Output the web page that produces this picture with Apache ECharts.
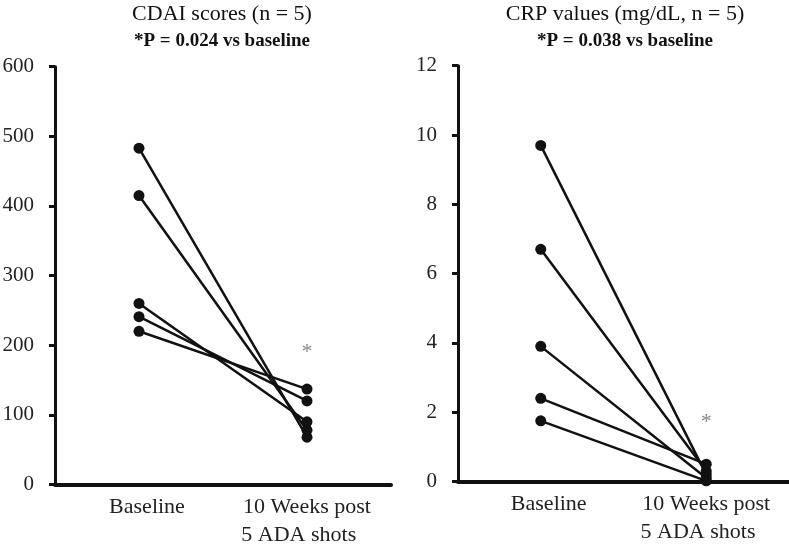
<!DOCTYPE html>
<html>
<head>
<meta charset="utf-8">
<script src="https://cdn.jsdelivr.net/npm/echarts@6/dist/echarts.min.js"></script>
<style>html,body{margin:0;padding:0;background:#fff}#c{width:789px;height:545px}</style>
</head>
<body>
<div id="c"></div>
<script>
const categories = ['Baseline', '10 Weeks post\n5 ADA shots   '];
const cdaiBaseline = [483, 415, 260, 241, 220];
const cdaiPost = [68, 78, 90, 120, 137];
const crpBaseline = [9.7, 6.7, 3.9, 2.4, 1.75];
const crpPost = [0.2, 0.3, 0.1, 0.5, 0.02];
const cdaiStar = 190;
const crpStar = 1.7;
const titles = ['CDAI scores (n = 5)', 'CRP values (mg/dL, n = 5)'];
const subtitles = ['*P = 0.024 vs baseline', '*P = 0.038 vs baseline'];

const FONT = 'Liberation Serif';
const chart = echarts.init(document.getElementById('c'));

function pairSeries(base, post, idx, star) {
  return base.map((b, i) => {
    const s = {
      type: 'line',
      xAxisIndex: idx, yAxisIndex: idx,
      data: [b, post[i]],
      symbol: 'circle', symbolSize: 11,
      lineStyle: {color: '#111', width: 2.5},
      itemStyle: {color: '#111'},
      silent: true, animation: false
    };
    if (i === 0) {
      s.markPoint = {
        symbol: 'circle', symbolSize: 1,
        itemStyle: {color: 'rgba(0,0,0,0)'},
        label: {show: true, formatter: '*', color: '#888', fontFamily: FONT, fontSize: 22, position: 'inside'},
        data: [{coord: [categories[1], star]}]
      };
    }
    return s;
  });
}

function xAx(idx) {
  return {
    type: 'category', gridIndex: idx, boundaryGap: true,
    data: [{value: categories[0], textStyle: {padding: [0, 0, 0, 16]}}, categories[1]],
    axisLine: {lineStyle: {color: '#111', width: 4}},
    axisTick: {show: false},
    axisLabel: {fontFamily: FONT, fontSize: 22, lineHeight: 28, color: '#222', margin: 9, interval: 0}
  };
}
function yAx(idx, max, interval) {
  return {
    type: 'value', gridIndex: idx, min: 0, max: max, interval: interval,
    axisLine: {show: true, lineStyle: {color: '#111', width: 3}},
    axisTick: {show: true, length: 6, lineStyle: {color: '#111', width: 3}},
    splitLine: {show: false},
    axisLabel: {fontFamily: FONT, fontSize: 21, color: '#222', margin: 21}
  };
}

chart.setOption({
  animation: false,
  title: [0, 1].map(i => ({
    text: titles[i], subtext: subtitles[i],
    left: i === 0 ? 222 : 625, top: 3, textAlign: 'center', padding: 0, itemGap: 7,
    textStyle: {fontFamily: FONT, fontSize: 22, fontWeight: 'normal', color: '#111'},
    subtextStyle: {fontFamily: FONT, fontSize: 19, fontWeight: 'bold', color: '#111'}
  })),
  grid: [
    {left: 55, top: 66.7, width: 336, height: 417.8, containLabel: false, outerBoundsMode: 'none'},
    {left: 458, top: 65.7, width: 331, height: 415.8, containLabel: false, outerBoundsMode: 'none'}
  ],
  xAxis: [xAx(0), xAx(1)],
  yAxis: [yAx(0, 600, 100), yAx(1, 12, 2)],
  series: [].concat(pairSeries(cdaiBaseline, cdaiPost, 0, cdaiStar), pairSeries(crpBaseline, crpPost, 1, crpStar))
});
</script>
</body>
</html>
